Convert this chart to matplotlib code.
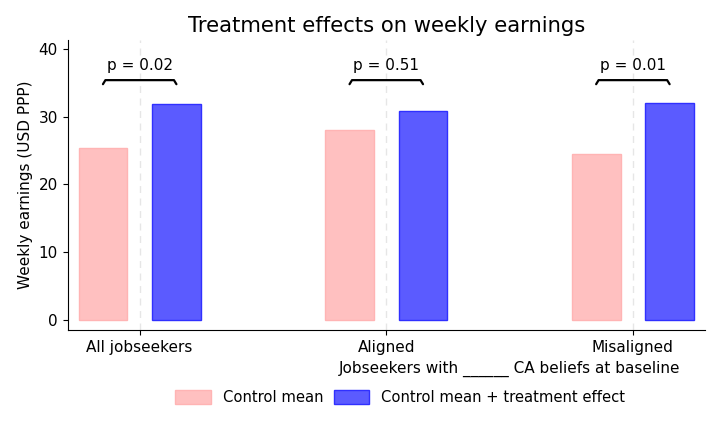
import matplotlib
matplotlib.use("Agg")
import matplotlib.pyplot as plt
import numpy as np

groups = ["All jobseekers", "Aligned", "Misaligned"]
control = [25.4, 28.1, 24.5]
treated = [31.9, 30.9, 32.0]
pvals = ["p = 0.02", "p = 0.51", "p = 0.01"]

fig = plt.figure(figsize=(7.2, 4.32), dpi=100)
ax = fig.add_axes([0.094, 0.236, 0.885, 0.671])

x = np.arange(len(groups))
off = 0.149
w = 0.198

for xi in x:
    ax.axvline(xi, color="#e6e6e6", lw=1, ls=(0, (5, 4)), zorder=0)

ax.bar(x - off, control, w, color="#ffc0c0", edgecolor="#ffb4b4", lw=1, label="Control mean")
ax.bar(x + off, treated, w, color="#5b5bff", edgecolor="#3030ff", lw=1,
       label="Control mean + treatment effect")

# braces with p-values
yb = 35.4
for xi, p in zip(x, pvals):
    x0, x1 = xi - off, xi + off
    ax.plot([x0, x0 + 0.01, x1 - 0.01, x1], [yb - 0.6, yb, yb, yb - 0.6],
            color="black", lw=1.6, solid_capstyle="round")
    ax.text(xi, yb + 1.0, p, ha="center", va="bottom", fontsize=11)

ax.set_xlim(-0.292, 2.292)
ax.set_ylim(-1.5, 41.3)
ax.set_yticks([0, 10, 20, 30, 40])
ax.set_xticks(x)
ax.set_xticklabels(groups, fontsize=11)
ax.tick_params(axis="y", labelsize=11)
ax.spines["top"].set_visible(False)
ax.spines["right"].set_visible(False)
ax.set_ylabel("Weekly earnings (USD PPP)", fontsize=11)
ax.set_title("Treatment effects on weekly earnings", fontsize=15.2)

ax.text((x[1] + x[2]) / 2, -0.135, "Jobseekers with ______ CA beliefs at baseline",
        transform=ax.get_xaxis_transform(), ha="center", va="center", fontsize=11)

fig.legend(loc="center", bbox_to_anchor=(0.556, 0.08), ncol=2, frameon=False,
           fontsize=10.6, handlelength=2.4, handleheight=1.1, columnspacing=0.75)

fig.savefig("out.png", dpi=100)
